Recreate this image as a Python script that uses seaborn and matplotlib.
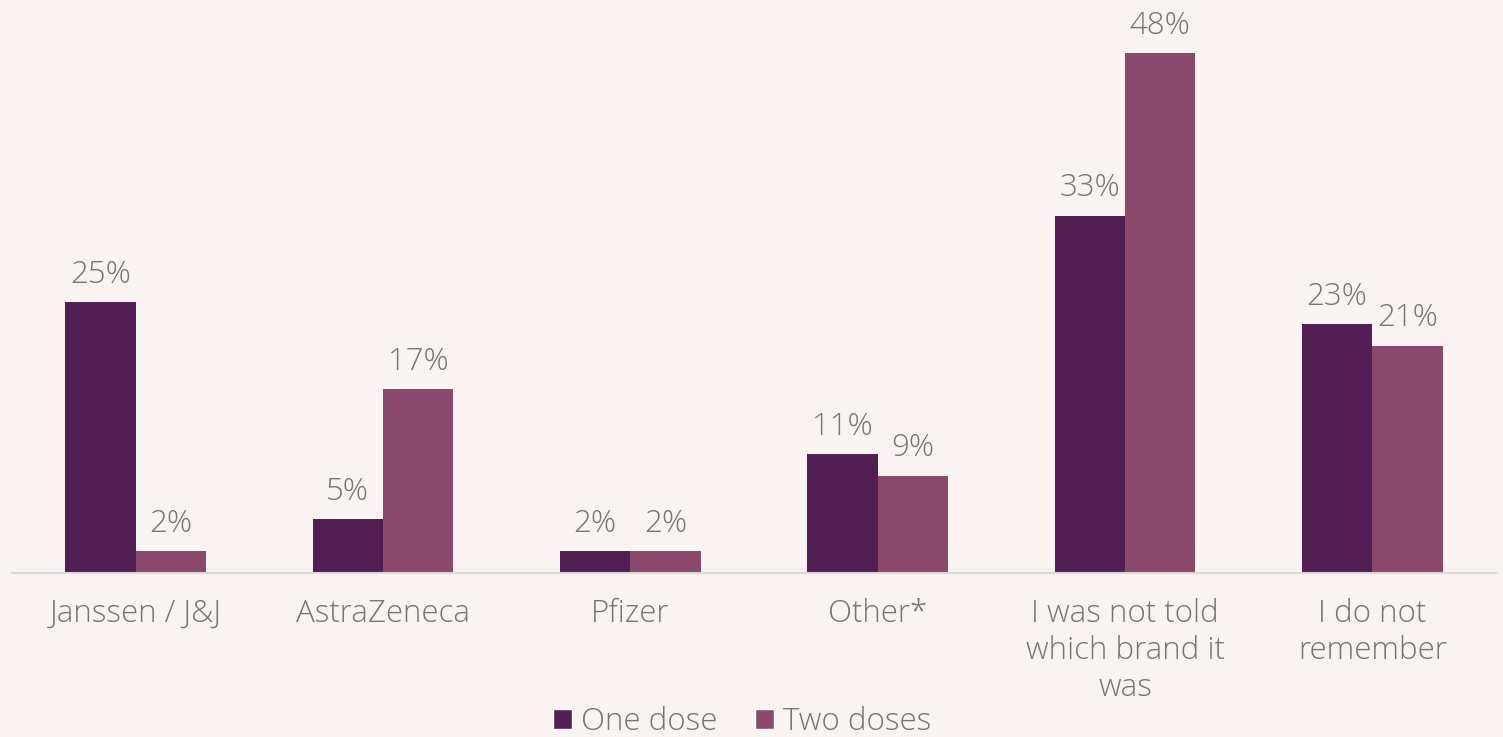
import matplotlib
matplotlib.use("Agg")
import matplotlib.pyplot as plt
import seaborn as sns
import pandas as pd
from matplotlib.patches import Patch

categories = ["Janssen / J&J", "AstraZeneca", "Pfizer", "Other*",
              "I was not told\nwhich brand it\nwas", "I do not\nremember"]
one_dose = [25, 5, 2, 11, 33, 23]
two_doses = [2, 17, 2, 9, 48, 21]
series = ["One dose", "Two doses"]
colors = ["#521F54", "#8B4A6C"]

df = pd.DataFrame({
    "category": categories * 2,
    "value": one_dose + two_doses,
    "series": [series[0]] * len(categories) + [series[1]] * len(categories),
})

bg = "#F9F4F2"
txt = "#757575"
fs = 22.5
fw = "light"

sns.set_theme(style="white")
plt.rcParams["font.family"] = ["Open Sans", "DejaVu Sans"]

fig = plt.figure(figsize=(15.03, 7.37), dpi=100, facecolor=bg)
ax = fig.add_axes([12 / 1503, (737 - 573) / 737, 1484 / 1503, 573 / 737])
ax.set_facecolor(bg)

sns.barplot(data=df, x="category", y="value", hue="series", palette=colors,
            width=0.57, saturation=1, linewidth=0, ax=ax, legend=False)

for cont in ax.containers:
    ax.bar_label(cont, labels=[f"{v:.0f}%" for v in cont.datavalues],
                 padding=8, fontsize=fs, color=txt, fontweight=fw)

ax.set_ylim(0, 52.9)
ax.set_xlim(-0.5, len(categories) - 0.5)
ax.set_xlabel("")
ax.set_ylabel("")
ax.set_yticks([])
ax.tick_params(axis="x", length=0, pad=18, labelsize=fs, labelcolor=txt)
for lab in ax.get_xticklabels():
    lab.set_linespacing(1.2)
    lab.set_fontweight(fw)
for s in ["top", "right", "left"]:
    ax.spines[s].set_visible(False)
ax.spines["bottom"].set_color("#DDD8D8")
ax.spines["bottom"].set_linewidth(1.5)

handles = [Patch(facecolor=c, label=s) for c, s in zip(colors, series)]
leg = fig.legend(handles=handles, loc="center", bbox_to_anchor=(0.494, 0.02),
                 ncol=2, frameon=False, fontsize=fs, handlelength=0.6,
                 handleheight=0.6, handletextpad=0.3, columnspacing=1.2,
                 labelcolor=txt)
for t in leg.get_texts():
    t.set_fontweight(fw)

fig.savefig("out.png", dpi=100, facecolor=bg)
